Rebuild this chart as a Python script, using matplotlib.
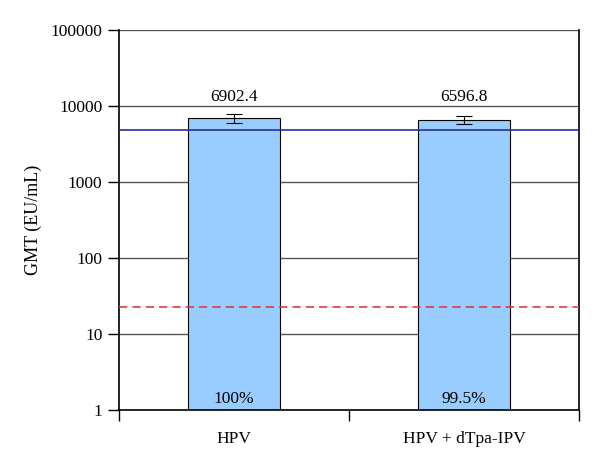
import matplotlib
matplotlib.use("Agg")
import matplotlib.pyplot as plt
import numpy as np

categories = ["HPV", "HPV + dTpa-IPV"]
gmt = [6902.4, 6596.8]
ci_low = [5970, 5800]
ci_high = [7850, 7400]
pct_labels = ["100%", "99.5%"]
blue_ref = 4870
red_ref = 23

plt.rcParams['font.family'] = ['Liberation Serif', 'DejaVu Serif']
FS = 12.5

fig = plt.figure(figsize=(6, 4.67), dpi=100)
ax = fig.add_axes([119/600, 57/467, 460/600, 380/467])

x = np.arange(len(categories))
ax.set_yscale('log')
ax.set_ylim(1, 100000)
ax.set_xlim(-0.5, len(categories) - 0.5)

for yv in [10, 100, 1000, 10000, 100000]:
    ax.axhline(yv, color='#555555', lw=1.0, zorder=1)

yerr = [np.array(gmt) - np.array(ci_low), np.array(ci_high) - np.array(gmt)]
ax.bar(x, gmt, width=0.4, color='#99ccff', edgecolor='black', lw=0.8, zorder=2)
ax.errorbar(x, gmt, yerr=yerr, fmt='none', ecolor='black', elinewidth=0.8,
            capsize=6, capthick=0.8, zorder=3)

ax.axhline(blue_ref, color='#2b2ba0', lw=1.2, zorder=4)
ax.axhline(red_ref, color='#e03c3c', lw=1.2, ls=(0, (5, 3)), zorder=4)

for xi, v in zip(x, gmt):
    ax.text(xi, 10300, f"{v}", ha='center', va='bottom', fontsize=FS)
for xi, p in zip(x, pct_labels):
    ax.text(xi, 1.08, p, ha='center', va='bottom', fontsize=FS)

ax.set_yticks([1, 10, 100, 1000, 10000, 100000])
ax.set_yticklabels(["1", "10", "100", "1000", "10000", "100000"])
ax.yaxis.set_minor_locator(matplotlib.ticker.NullLocator())
ax.tick_params(axis='y', direction='out', length=8, width=1, labelsize=FS, pad=4)

ax.set_xticks([-0.5, 0.5, 1.5])
ax.set_xticklabels([])
ax.set_xticks(x, minor=True)
ax.set_xticklabels(categories, minor=True, fontsize=FS)
ax.tick_params(axis='x', which='major', direction='out', length=8, width=1)
ax.tick_params(axis='x', which='minor', length=0, pad=15)

ax.spines['top'].set_visible(False)
for s in ['left', 'right', 'bottom']:
    ax.spines[s].set_linewidth(1.2)
    ax.spines[s].set_color('black')

ax.set_ylabel("GMT (EU/mL)", fontsize=13, labelpad=6)

fig.savefig("out.png", dpi=100)
